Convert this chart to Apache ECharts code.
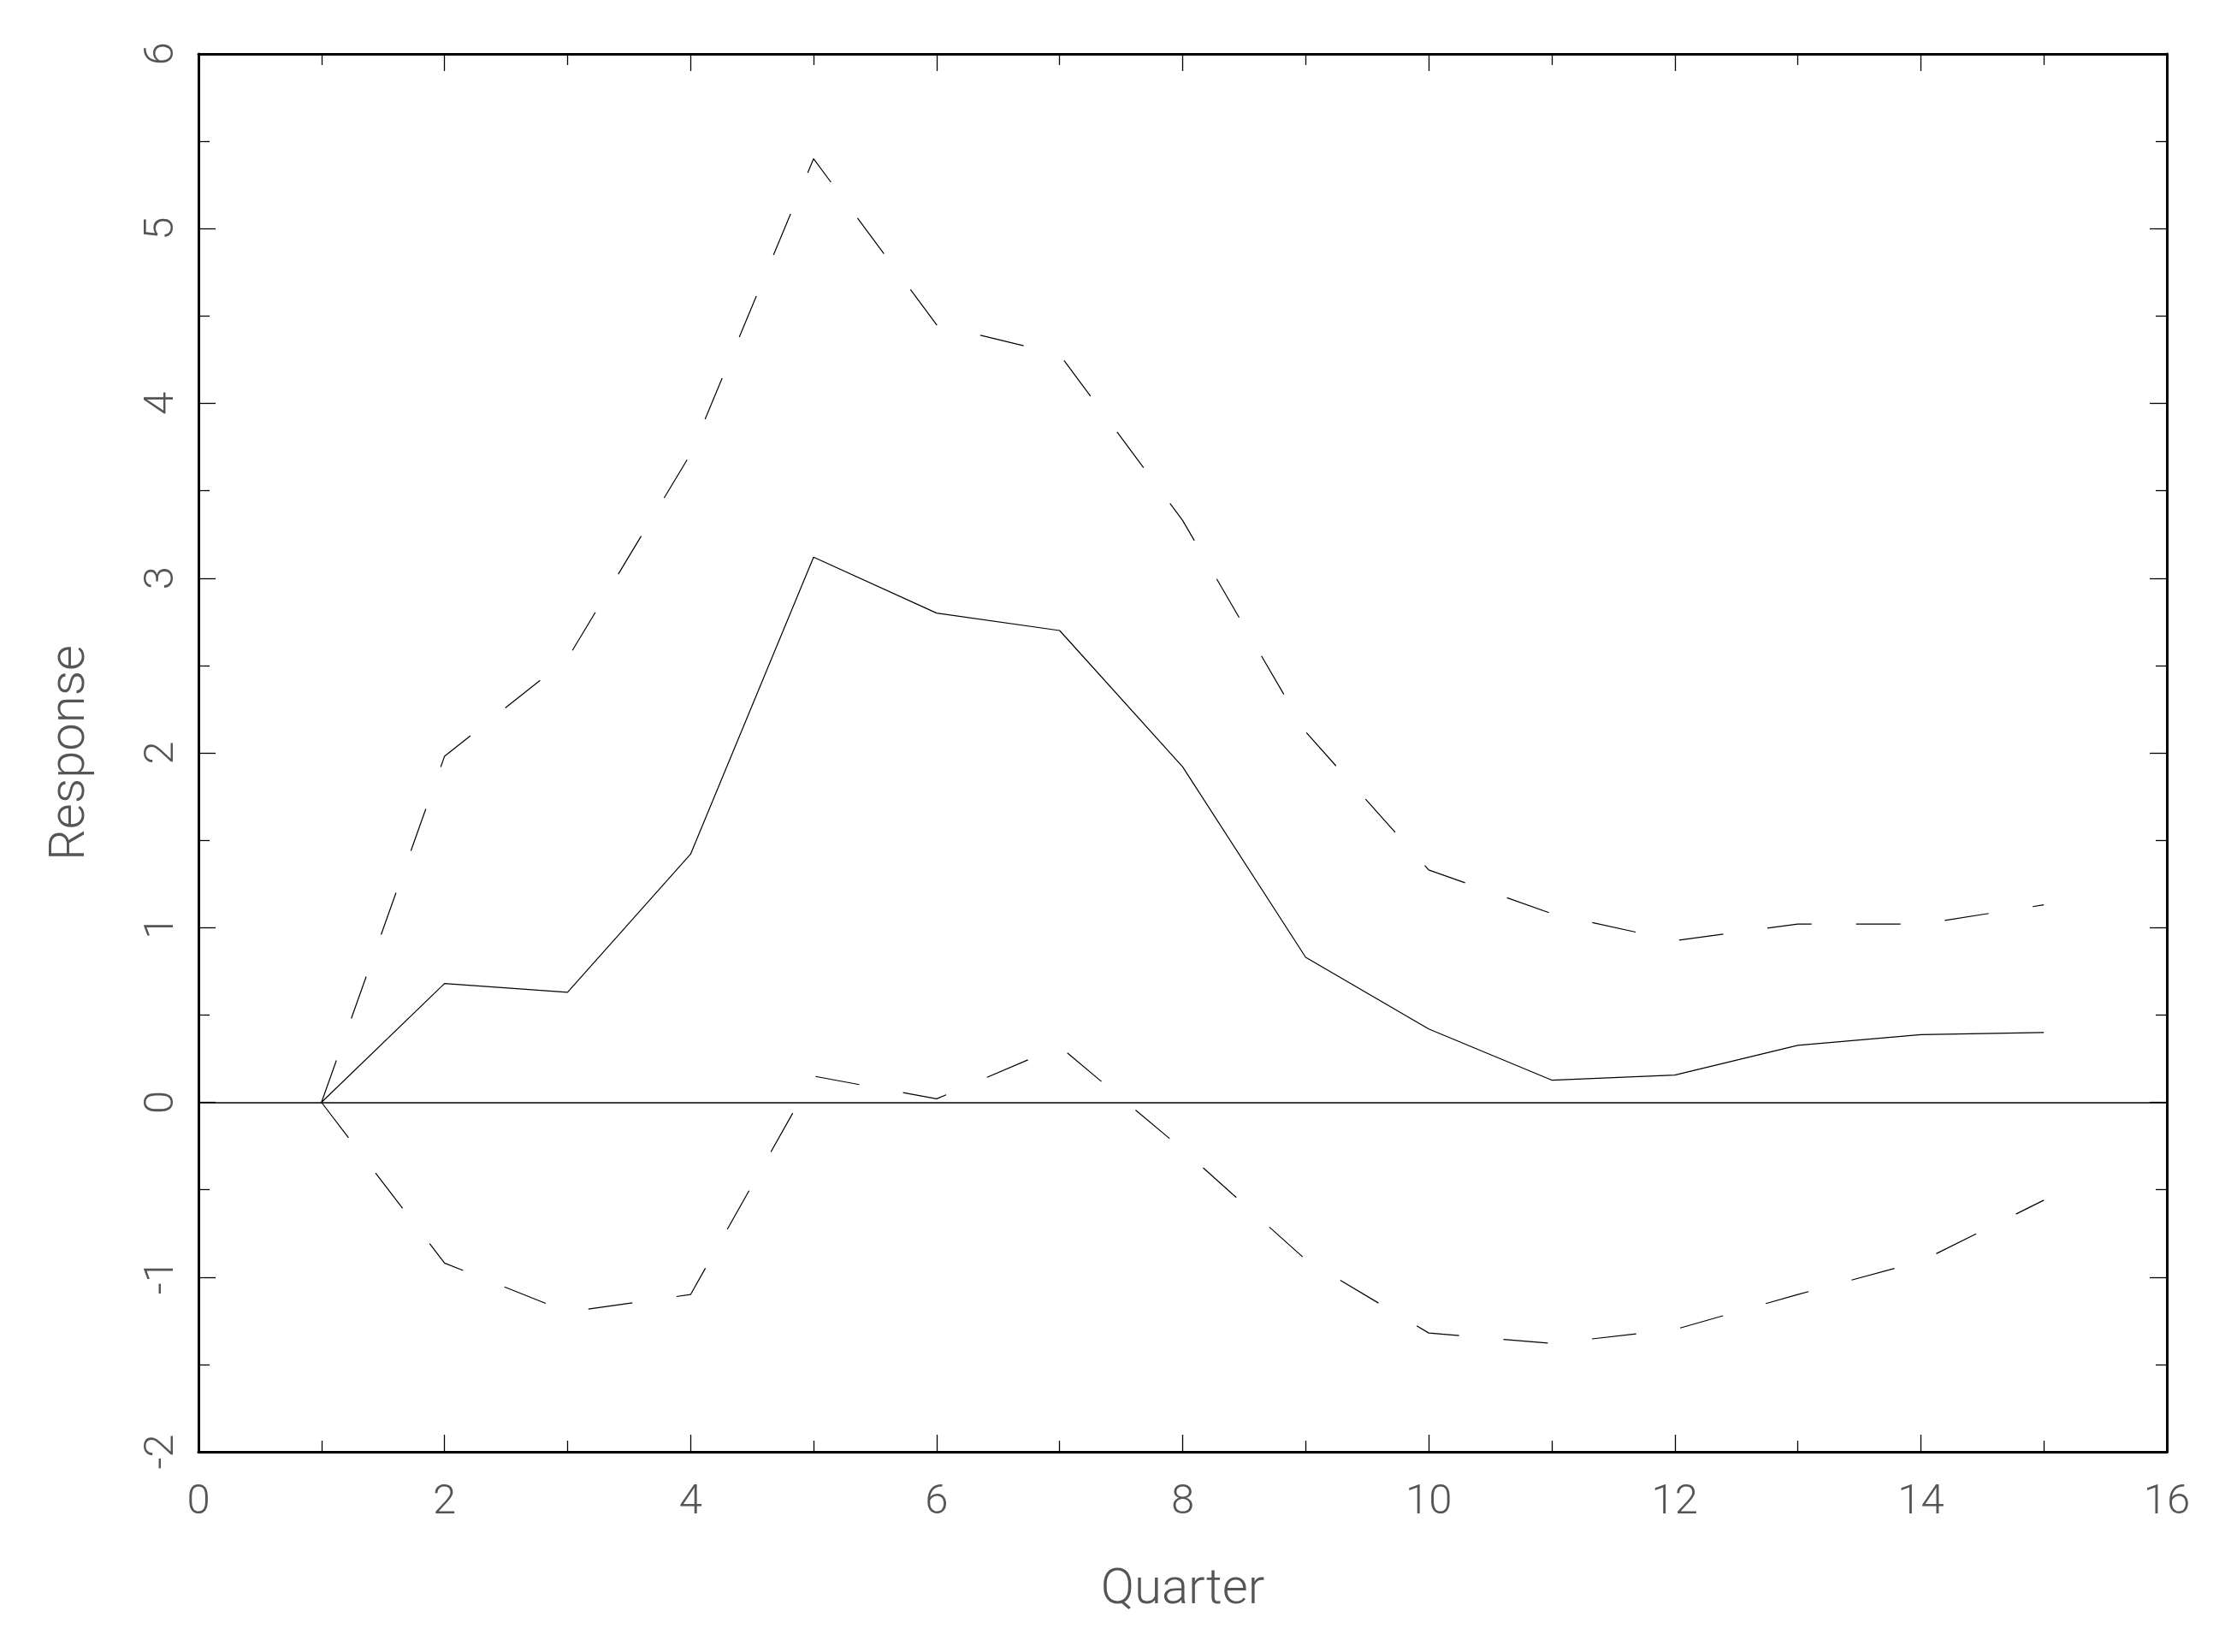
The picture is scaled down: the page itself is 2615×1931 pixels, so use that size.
<!DOCTYPE html>
<html>
<head>
<meta charset="utf-8">
<title>Response by quarter</title>
<script src="https://cdn.jsdelivr.net/npm/echarts@6/dist/echarts.min.js"></script>
<style>
  body {
    margin: 0;
    background: #fff;
  }
  #chart {
    width: 2615px;
    height: 1931px;
  }
</style>
</head>
<body>
<div id="chart"></div>
<script>
// quarters 1..15
const quarters = [1, 2, 3, 4, 5, 6, 7, 8, 9, 10, 11, 12, 13, 14, 15]
// point estimate (solid)
const response = [0, 0.68, 0.63, 1.42, 3.12, 2.80, 2.70, 1.92, 0.83, 0.42, 0.127, 0.156, 0.326, 0.387, 0.40]
// upper band (dashed)
const upperBand = [0, 1.98, 2.54, 3.71, 5.40, 4.45, 4.28, 3.33, 2.12, 1.33, 1.08, 0.925, 1.02, 1.02, 1.13]
// lower band (dashed)
const lowerBand = [0, -0.92, -1.20, -1.10, 0.15, 0.02, 0.32, -0.27, -0.90, -1.32, -1.38, -1.30, -1.10, -0.91, -0.56]

const xTicks = { min: 0, max: 16, interval: 2 }
const yTicks = { min: -2, max: 6, interval: 1 }

const textFont = 'Roboto'
const textColor = '#555'

function pairs(ys) {
  return quarters.map((q, i) => [q, ys[i]])
}

function mirrorAxis(base, position) {
  return Object.assign({}, base, {
    position: position,
    name: '',
    axisLabel: { show: false }
  })
}

const axisLine = { show: true, onZero: false, lineStyle: { color: '#000', width: 3 } }
const axisTick = { show: true, inside: true, length: 20, lineStyle: { color: '#000', width: 1.3 } }
const minorTick = { show: true, splitNumber: 2, length: 13, lineStyle: { color: '#000', width: 1.3 } }

const xBase = {
  type: 'value',
  min: xTicks.min,
  max: xTicks.max,
  interval: xTicks.interval,
  axisLine: axisLine,
  axisTick: axisTick,
  minorTick: minorTick,
  splitLine: { show: false }
}
const yBase = {
  type: 'value',
  min: yTicks.min,
  max: yTicks.max,
  interval: yTicks.interval,
  axisLine: axisLine,
  axisTick: axisTick,
  minorTick: minorTick,
  splitLine: { show: false }
}

let myChart = echarts.init(document.getElementById('chart'), null, { renderer: 'canvas' })
myChart.setOption({
  animation: false,
  backgroundColor: '#fff',
  grid: {
    left: 232,
    right: 82,
    top: 63,
    bottom: 234
  },
  xAxis: [
    Object.assign({}, xBase, {
      position: 'bottom',
      name: 'Quarter',
      nameLocation: 'middle',
      nameGap: 133,
      nameTextStyle: { fontFamily: textFont, fontWeight: 300, fontSize: 58, color: textColor },
      axisLabel: { margin: 35, fontFamily: textFont, fontWeight: 300, fontSize: 49, color: textColor }
    }),
    mirrorAxis(xBase, 'top')
  ],
  yAxis: [
    Object.assign({}, yBase, {
      position: 'left',
      name: 'Response',
      nameLocation: 'middle',
      nameGap: 120,
      nameTextStyle: { fontFamily: textFont, fontWeight: 300, fontSize: 58, color: textColor },
      axisLabel: { rotate: 90, margin: 18, fontFamily: textFont, fontWeight: 300, fontSize: 49, color: textColor }
    }),
    mirrorAxis(yBase, 'right')
  ],
  series: [
    {
      name: 'response',
      type: 'line',
      data: pairs(response),
      showSymbol: false,
      lineStyle: { color: '#000', width: 1.2 },
      markLine: {
        silent: true,
        symbol: 'none',
        label: { show: false },
        lineStyle: { color: '#000', width: 1.6, type: 'solid' },
        data: [{ yAxis: 0 }]
      }
    },
    {
      name: 'upper',
      type: 'line',
      data: pairs(upperBand),
      showSymbol: false,
      lineStyle: { color: '#000', width: 1.2, type: [52, 52] }
    },
    {
      name: 'lower',
      type: 'line',
      data: pairs(lowerBand),
      showSymbol: false,
      lineStyle: { color: '#000', width: 1.2, type: [52, 52] }
    }
  ]
})
window.onresize = () => {
  myChart.resize()
}
</script>
</body>
</html>
